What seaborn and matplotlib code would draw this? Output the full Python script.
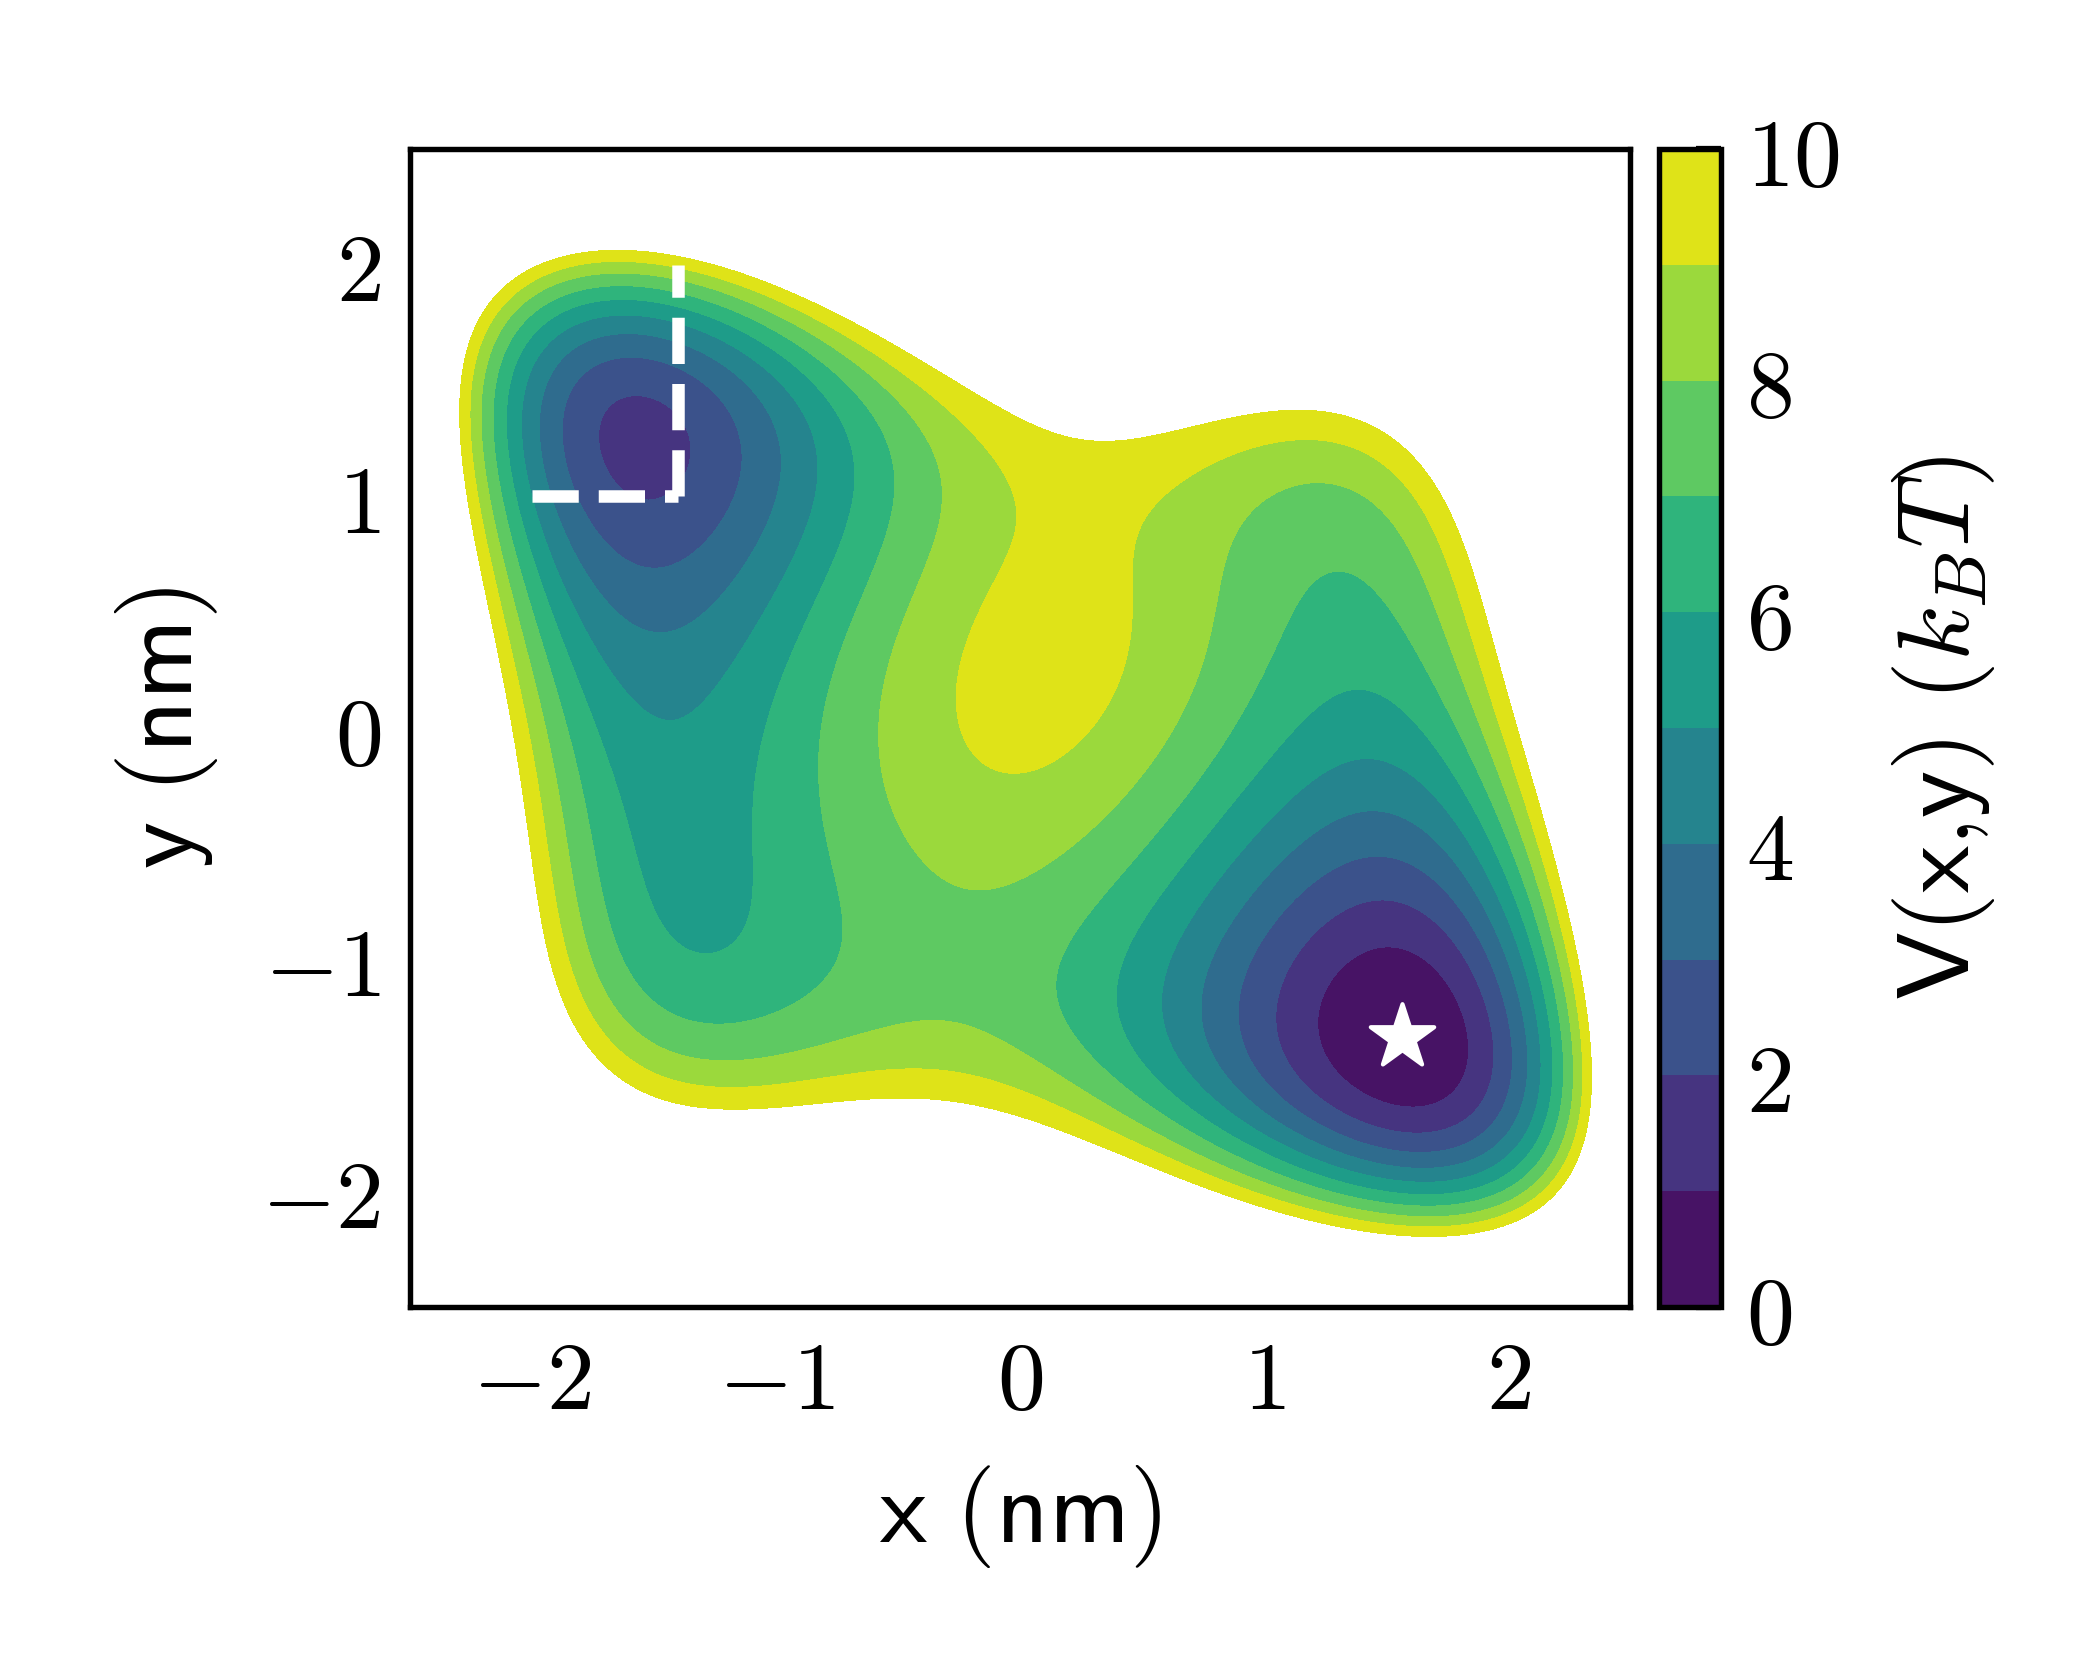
import numpy as np
import matplotlib
matplotlib.use("Agg")
import matplotlib.pyplot as plt
import seaborn as sns
from numpy.polynomial import chebyshev as cheb

sns.set_style("white")
plt.rcParams.update({
    "mathtext.fontset": "cm",
    "axes.linewidth": 1.3,
    "axes.edgecolor": "black",
    "text.color": "black",
    "axes.labelcolor": "black",
    "xtick.color": "black",
    "ytick.color": "black",
})

levels = np.arange(0, 11)
cbar_ticks = [0, 2, 4, 6, 8, 10]
axis_ticks = [-2, -1, 0, 1, 2]

# points on each contour line (x, y in nm)
v10 = [(-2.29, 1.23), (-2.29, 1.33), (-2.19, 1.80), (-1.98, 1.98), (-1.64, 2.06), (-1.23, 1.98),
       (-0.83, 1.82), (-0.49, 1.65), (-0.33, 1.56), (-0.15, 1.43), (0.05, 1.31), (0.33, 1.25),
       (0.60, 1.29), (0.82, 1.34), (1.19, 1.39), (1.53, 1.29), (1.73, 1.04), (1.84, 0.71),
       (1.94, 0.28), (2.08, -0.23), (2.19, -0.53), (2.28, -1.04), (2.34, -1.47), (2.31, -1.83),
       (2.14, -2.06), (1.87, -2.17), (1.60, -2.19), (1.32, -2.16), (0.91, -2.03), (0.82, -1.995),
       (0.37, -1.81), (-0.08, -1.66), (-0.42, -1.60), (-0.90, -1.63), (-1.31, -1.645),
       (-1.65, -1.52), (-1.84, -1.22), (-1.94, -0.93), (-1.98, -0.57), (-2.04, -0.14),
       (-2.12, 0.29), (-2.21, 0.73)]
v9 = [(-2.25, 1.23), (-2.15, 1.78), (-1.96, 1.94), (-1.60, 2.02), (-1.23, 1.93), (-0.97, 1.85),
      (-0.63, 1.66), (-0.355, 1.43), (-0.22, 1.30), (-0.08, 1.10), (-0.03, 0.90), (-0.12, 0.58),
      (-0.22, 0.34), (-0.26, 0.08), (-0.19, -0.14), (-0.04, -0.23), (0.19, -0.11), (0.33, 0.08),
      (0.40, 0.29), (0.42, 0.50), (0.45, 0.78), (0.53, 0.91), (0.78, 1.11), (1.19, 1.24),
      (1.46, 1.17), (1.67, 0.93), (1.80, 0.57), (1.94, 0.135), (2.08, -0.30), (2.19, -0.70),
      (2.245, -1.04), (2.30, -1.48), (2.27, -1.81), (2.11, -2.02), (1.87, -2.13), (1.60, -2.14),
      (1.32, -2.12), (0.82, -1.94), (0.33, -1.75), (-0.08, -1.53), (-0.42, -1.48), (-0.90, -1.53),
      (-1.31, -1.555), (-1.57, -1.40), (-1.78, -1.19), (-1.885, -0.93), (-1.93, -0.57),
      (-1.99, -0.14), (-2.07, 0.29), (-2.165, 0.725)]
v8 = [(-2.205, 1.23), (-1.627, 1.97), (-1.107, 1.85), (-0.70, 1.56), (-0.42, 1.27), (-0.325, 0.985),
      (-0.38, 0.70), (-0.49, 0.41), (-0.56, 0.12), (-0.574, -0.225), (-0.49, -0.48), (-0.355, -0.656),
      (-0.19, -0.75), (-0.014, -0.685), (0.19, -0.51), (0.34, -0.35), (0.48, -0.225), (0.67, 0.12),
      (0.78, 0.55), (0.85, 0.725), (0.98, 0.93), (1.24, 1.03), (1.46, 0.96), (1.60, 0.78),
      (1.73, 0.42), (1.87, 0.06), (2.01, -0.30), (2.12, -0.66), (2.268, -1.46), (1.60, -2.107),
      (0.82, -1.894), (0.33, -1.62), (-0.014, -1.374), (-0.33, -1.266), (-0.93, -1.42),
      (-1.366, -1.39), (-1.667, -1.174), (-1.817, -0.928), (-1.872, -0.57), (-1.933, -0.138),
      (-2.022, 0.294), (-2.115, 0.725)]
v7 = [(-2.158, 1.23), (-1.619, 1.917), (-1.26, 1.85), (-0.533, 1.23), (-0.522, 1.157), (-0.546, 0.84),
      (-0.656, 0.553), (-0.766, 0.265), (-0.82, -0.02), (-0.833, -0.20), (-0.83, -0.40),
      (-0.751, -0.713), (-0.738, -0.928), (-0.833, -1.146), (-1.038, -1.261), (-1.23, -1.29),
      (-1.571, -1.101), (-1.694, -0.858), (-1.776, -0.57), (-1.844, -0.138), (-1.954, 0.294),
      (-2.063, 0.725), (0.709, -0.225), (0.642, -0.311), (0.464, -0.584), (0.259, -0.872),
      (0.164, -1.117), (0.259, -1.376), (0.533, -1.606), (0.82, -1.808), (1.598, -2.067),
      (2.23, -1.448), (2.062, -0.656), (1.871, -0.181), (1.667, 0.237), (1.488, 0.51),
      (1.311, 0.622), (1.16, 0.553), (0.984, 0.281)]
v6 = [(-2.108, 1.23), (-1.611, 1.855), (-0.683, 1.157), (-0.71, 0.84), (-0.751, 0.725), (-0.82, 0.553),
      (-0.956, 0.24), (-1.066, -0.04), (-1.12, -0.354), (-1.12, -0.57), (-1.148, -0.858),
      (-1.284, -0.972), (-1.448, -0.829), (-1.53, -0.57), (-1.612, -0.282), (-1.708, -0.066),
      (-1.844, 0.294), (-1.995, 0.725), (0.90, -0.367), (0.601, -0.656), (0.396, -1.117),
      (0.533, -1.447), (0.82, -1.736), (1.598, -2.016), (2.186, -1.434), (1.939, -0.584),
      (1.734, -0.153), (1.557, 0.078), (1.373, 0.172), (1.189, 0.063)]
v5 = [(-2.049, 1.23), (-1.607, 1.788), (-0.836, 1.157), (-0.915, 0.725), (-1.093, 0.366),
      (-1.27, 0.15), (-1.448, 0.07), (-1.708, 0.366), (-1.92, 0.725), (0.87, -0.65), (0.574, -1.18),
      (0.82, -1.62), (1.598, -1.963), (2.135, -1.419), (1.816, -0.44), (1.598, -0.196),
      (1.406, -0.118), (1.189, -0.239)]
v4 = [(-1.975, 1.23), (-1.598, 1.705), (-0.99, 1.19), (-1.107, 0.725), (-1.298, 0.495), (-1.475, 0.40),
      (-1.639, 0.51), (-1.817, 0.725), (0.727, -1.218), (1.598, -1.904), (2.084, -1.404),
      (1.667, -0.44), (1.441, -0.34), (1.119, -0.584), (0.914, -0.743)]
v3 = [(-1.877, 1.23), (-1.59, 1.59), (-1.156, 1.16), (-1.366, 0.725), (-1.504, 0.68), (-1.639, 0.725),
      (0.877, -1.232), (1.598, -1.833), (2.015, -1.39), (1.462, -0.536), (1.107, -0.743)]
v2 = [(-1.704, 1.23), (-1.57, 1.40), (-1.386, 1.21), (-1.52, 1.0), (1.031, -1.261), (1.937, -1.376),
      (1.488, -0.727), (1.598, -1.749)]
v1 = [(1.205, -1.29), (1.831, -1.347), (1.503, -0.933), (1.57, -1.635)]
contour_pts = {10: v10, 9: v9, 8: v8, 7: v7, 6: v6, 5: v5, 4: v4, 3: v3, 2: v2, 1: v1}

# spot values (x, y, V) inside bands: well bottoms, channel floor, ridge, saddles
spots = [(1.52, -1.29, 0.05), (-1.55, 1.2, 1.75), (-1.42, -0.2, 5.3), (-1.33, -0.6, 5.65),
         (0.1, 0.5, 9.5), (0.05, 0.0, 9.25), (-0.3, -1.02, 7.45), (1.3, 0.85, 7.5)]
# white region (V above 10)
outside = [(-2.42, 1.25, 13), (-2.3, 1.95, 13), (-1.65, 2.22, 13), (-0.9, 2.0, 13), (-0.1, 1.55, 12),
           (0.6, 1.45, 12), (1.25, 1.55, 12.5), (1.72, 1.3, 13), (2.03, 0.75, 13), (2.2, 0.0, 13),
           (2.35, -0.6, 13), (2.47, -1.45, 14), (2.4, -2.05, 14), (1.6, -2.35, 13.5), (0.85, -2.2, 13),
           (0.3, -1.98, 12.5), (-0.45, -1.80, 12.5), (-1.3, -1.85, 13), (-1.85, -1.55, 13),
           (-2.1, -0.95, 13), (-2.2, -0.15, 13), (-2.35, 0.7, 13)]
far = [(-2.5, -2.5, 30), (2.5, 2.5, 30), (2.5, -2.5, 25), (-2.5, 2.5, 25), (0, 2.5, 22), (0, -2.5, 20),
       (2.5, 0.8, 22), (-2.5, -1.2, 22), (1.2, 2.3, 22), (-1.0, -2.4, 20), (2.5, -0.5, 18),
       (-2.5, 0.2, 18), (-1.2, 2.5, 20), (1.0, -2.5, 18), (2.0, 2.0, 28), (-2.2, -2.2, 26),
       (-2.5, 2.0, 20), (2.5, -2.0, 20)]

star = (1.565, -1.335)
box_x = [-2.0, -1.4]
box_y = [1.0, 2.0]


def basis(x, y, deg=8):
    u, v = np.asarray(x) / 2.5, np.asarray(y) / 2.5
    eye = np.eye(deg + 1)
    tu = [cheb.chebval(u, eye[i]) for i in range(deg + 1)]
    tv = [cheb.chebval(v, eye[i]) for i in range(deg + 1)]
    return np.stack([tu[i] * tv[j] for i in range(deg + 1) for j in range(deg + 1 - i)], axis=-1)


# smooth surface V(x, y) through the read-off points
rows = []
for lev, pts in contour_pts.items():
    rows += [(x, y, lev, 1.0) for x, y in pts]
rows += [(x, y, v, 1.0) for x, y, v in spots]
rows += [(x, y, v, 0.3) for x, y, v in outside]
rows += [(x, y, v, 0.1) for x, y, v in far]
px, py, pv, pw = map(np.array, zip(*rows))

A = basis(px, py) * np.sqrt(pw)[:, None]
b = pv * np.sqrt(pw)
lam = 1e-3
A = np.vstack([A, np.sqrt(lam) * np.eye(A.shape[1])])
b = np.concatenate([b, np.zeros(A.shape[1])])
coef = np.linalg.lstsq(A, b, rcond=None)[0]

gx = np.linspace(-2.5, 2.5, 501)
GX, GY = np.meshgrid(gx, gx)
Z = np.clip(basis(GX, GY) @ coef, 0, None)

fig = plt.figure(figsize=(7, 5.6), dpi=300)
ax = fig.add_axes([0.1952, 0.222, 0.581, 0.6893])
cax = fig.add_axes([0.790, 0.222, 0.0295, 0.6893])

cs = ax.contourf(GX, GY, Z, levels=levels, cmap="viridis")
ax.plot([box_x[1], box_x[1]], box_y, "--", color="white", lw=3)
ax.plot(box_x, [box_y[0], box_y[0]], "--", color="white", lw=3)
sns.scatterplot(x=[star[0]], y=[star[1]], marker="*", s=16 ** 2, color="white",
                edgecolor="white", linewidth=1, ax=ax, zorder=5, legend=False)

ax.set_xlim(-2.5, 2.5)
ax.set_ylim(-2.5, 2.5)
ax.set_xticks(axis_ticks, labels=[rf"${t}$" for t in axis_ticks])
ax.set_yticks(axis_ticks, labels=[rf"${t}$" for t in axis_ticks])
ax.tick_params(direction="in", length=10, width=1.5, labelsize=23, pad=7)
ax.set_xlabel(r"$\mathsf{x\ (nm)}$", fontsize=24.5, labelpad=8)
ax.set_ylabel(r"$\mathsf{y\ (nm)}$", fontsize=24.5, labelpad=10)

cb = fig.colorbar(cs, cax=cax, ticks=cbar_ticks)
cb.ax.set_yticklabels([rf"${t}$" for t in cbar_ticks])
cb.ax.tick_params(direction="in", length=6, width=1.5, labelsize=23, pad=6)
cb.outline.set_linewidth(1.3)
cb.set_label(r"$\mathsf{V(x{,}y)}\ (k_BT)$", fontsize=24.5, labelpad=12)

fig.savefig("out.png", dpi=300)
